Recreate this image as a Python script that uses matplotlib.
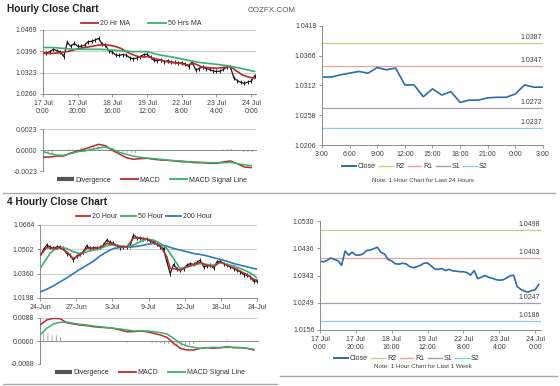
import numpy as np
import matplotlib
matplotlib.use('Agg')
from matplotlib import pyplot as plt
from matplotlib.lines import Line2D

# ---- hourly close, last week (every 2 hours from 17 Jul 0:00) ----
wk_hours = np.arange(0, 124, 2)
wk_close = [1.0392, 1.0390, 1.0395, 1.0403, 1.0398, 1.0394, 1.0378, 1.0427, 1.0413, 1.0423,
            1.0413, 1.0413, 1.0417, 1.0429, 1.0430, 1.0435, 1.0440, 1.0422, 1.0417, 1.0398,
            1.0393, 1.0383, 1.0382, 1.0385, 1.0383, 1.0374, 1.0370, 1.0373, 1.0378, 1.0385,
            1.0386, 1.0376, 1.0365, 1.0364, 1.0367, 1.0360, 1.0364, 1.0359, 1.0358, 1.0356,
            1.0356, 1.0353, 1.0344, 1.0360, 1.0332, 1.0337, 1.0343, 1.0337, 1.0334, 1.0329,
            1.0327, 1.0328, 1.0334, 1.0342, 1.0344, 1.0305, 1.0296, 1.0290, 1.0286, 1.0291,
            1.0294, 1.0312]
ma20_hours = [0, 6, 12, 16, 21, 27, 33, 37, 41, 45, 48, 52, 56, 60, 64, 68, 71, 75, 79, 83,
              87, 91, 94, 100, 104, 108, 112, 115, 119, 122]
ma20_vals = [1.0389, 1.0389, 1.0393, 1.0398, 1.0406, 1.0412, 1.0418, 1.0418, 1.0414, 1.0406,
             1.0395, 1.0384, 1.0376, 1.0378, 1.0372, 1.0366, 1.0361, 1.0357, 1.0355, 1.0349,
             1.0355, 1.0344, 1.0341, 1.0338, 1.0341, 1.0344, 1.0327, 1.0315, 1.0307, 1.0304]
ma50_hours = [0, 6, 12, 18, 25, 33, 39, 45, 52, 60, 67, 75, 83, 90, 98, 106, 114, 122]
ma50_vals = [1.0409, 1.0409, 1.0406, 1.0403, 1.0403, 1.0403, 1.0401, 1.0398, 1.0395, 1.0395,
             1.0384, 1.0376, 1.0366, 1.0358, 1.0353, 1.0347, 1.0338, 1.0327]
wk_labels = ['17 Jul\n0:00', '17 Jul\n20:00', '18 Jul\n16:00', '19 Jul\n12:00',
             '22 Jul\n8:00', '23 Jul\n4:00', '24 Jul\n0:00']

# hourly MACD (every 4 hours)
macd1_hours = np.arange(0, 121, 4)
macd1 = [-0.00077, -0.00077, -0.00066, -0.00066, -0.00033, -0.00011, 0.00011, 0.00037, 0.00062,
         0.00047, -0.00004, -0.00044, -0.00084, -0.00102, -0.00095, -0.00091, -0.00102, -0.00110,
         -0.00113, -0.00120, -0.00128, -0.00131, -0.00139, -0.00139, -0.00146, -0.00146, -0.00131,
         -0.00120, -0.00150, -0.00186, -0.00193]
signal1 = [-0.00018, -0.00040, -0.00055, -0.00058, -0.00040, -0.00018, -0.00011, 0.00007, 0.00022,
           0.00033, 0.00011, -0.00026, -0.00047, -0.00066, -0.00080, -0.00088, -0.00095, -0.00102,
           -0.00110, -0.00117, -0.00120, -0.00128, -0.00131, -0.00135, -0.00139, -0.00139, -0.00139,
           -0.00135, -0.00150, -0.00161, -0.00172]

# ---- last 24 hours ----
day_hours = np.arange(0, 25)
day_close = [1.0327, 1.0327, 1.0331, 1.0334, 1.0337, 1.0334, 1.0344, 1.0340, 1.0343, 1.0313,
             1.0313, 1.0292, 1.0306, 1.0295, 1.0301, 1.0282, 1.0286, 1.0286, 1.0290, 1.0291,
             1.0291, 1.0297, 1.0313, 1.0309, 1.0309]
day_labels = ['3:00', '6:00', '9:00', '12:00', '15:00', '18:00', '21:00', '0:00', '3:00']
day_levels = {'R2': 1.0387, 'R1': 1.0347, 'S1': 1.0272, 'S2': 1.0237}
wk_levels = {'R2': 1.0498, 'R1': 1.0403, 'S1': 1.0247, 'S2': 1.0186}

# ---- 4 hourly close (bar index) ----
h4_idx = np.arange(0, 131, 2)
h4_close = [1.0461, 1.0504, 1.0536, 1.0525, 1.0514, 1.0525, 1.0525, 1.0514, 1.0482, 1.0472,
            1.0440, 1.0467, 1.0476, 1.0493, 1.0531, 1.0514, 1.0519, 1.0519, 1.0521, 1.0536,
            1.0568, 1.0553, 1.0546, 1.0531, 1.0519, 1.0521, 1.0525, 1.0531, 1.0600, 1.0583,
            1.0579, 1.0574, 1.0574, 1.0561, 1.0553, 1.0540, 1.0525, 1.0514, 1.0429, 1.0354,
            1.0412, 1.0386, 1.0375, 1.0386, 1.0407, 1.0418, 1.0412, 1.0425, 1.0440, 1.0397,
            1.0403, 1.0407, 1.0390, 1.0429, 1.0433, 1.0418, 1.0407, 1.0397, 1.0386, 1.0375,
            1.0365, 1.0348, 1.0343, 1.0333, 1.0305, 1.0305]
h4_ma20_idx = [0, 4, 8, 12, 16, 20, 24, 28, 32, 36, 40, 44, 48, 52, 56, 60, 64, 68, 72, 76,
               78, 80, 84, 88, 92, 96, 100, 104, 108, 112, 116, 120, 124, 128, 130]
h4_ma20 = [1.0472, 1.0519, 1.0514, 1.0519, 1.0493, 1.0450, 1.0472, 1.0514, 1.0514, 1.0521,
           1.0546, 1.0540, 1.0525, 1.0525, 1.0579, 1.0583, 1.0574, 1.0557, 1.0531, 1.0461,
           1.0386, 1.0386, 1.0375, 1.0397, 1.0412, 1.0425, 1.0407, 1.0397, 1.0429, 1.0407,
           1.0390, 1.0369, 1.0348, 1.0318, 1.0311]
h4_ma50_idx = [0, 2, 4, 6, 8, 12, 16, 20, 24, 28, 32, 36, 40, 44, 48, 52, 56, 60, 64, 68,
               72, 76, 80, 84, 88, 92, 96, 100, 104, 108, 112, 116, 120, 124, 128, 130]
h4_ma50 = [1.0386, 1.0418, 1.0450, 1.0482, 1.0504, 1.0521, 1.0514, 1.0493, 1.0482, 1.0493,
           1.0504, 1.0514, 1.0531, 1.0540, 1.0531, 1.0525, 1.0536, 1.0557, 1.0574, 1.0568,
           1.0546, 1.0514, 1.0450, 1.0386, 1.0397, 1.0407, 1.0418, 1.0412, 1.0407, 1.0425,
           1.0412, 1.0403, 1.0386, 1.0369, 1.0343, 1.0326]
h4_ma200_idx = list(range(0, 129, 4)) + [130]
h4_ma200 = [1.0236, 1.0254, 1.0275, 1.0301, 1.0326, 1.0354, 1.0382, 1.0407, 1.0433, 1.0467,
            1.0493, 1.0514, 1.0521, 1.0523, 1.0525, 1.0531, 1.0540, 1.0546, 1.0536, 1.0529,
            1.0514, 1.0504, 1.0493, 1.0482, 1.0476, 1.0467, 1.0455, 1.0444, 1.0433, 1.0418,
            1.0407, 1.0397, 1.0386, 1.0382]
h4_labels = ['24-Jun', '27-Jun', '3-Jul', '9-Jul', '12-Jul', '18-Jul', '24-Jul']

macd4_idx = np.arange(0, 129, 4)
macd4 = [0.00612, 0.00803, 0.00867, 0.00854, 0.00701, 0.00650, 0.00612, 0.00587, 0.00548, 0.00523,
         0.00510, 0.00485, 0.00421, 0.00357, 0.00357, 0.00383, 0.00357, 0.00293, 0.00230, 0.00140,
         -0.00089, -0.00281, -0.00344, -0.00344, -0.00281, -0.00255, -0.00281, -0.00255, -0.00217,
         -0.00255, -0.00255, -0.00281, -0.00344]
signal4 = [0.00230, 0.00485, 0.00650, 0.00714, 0.00727, 0.00676, 0.00638, 0.00612, 0.00574, 0.00548,
           0.00510, 0.00485, 0.00459, 0.00421, 0.00383, 0.00383, 0.00383, 0.00357, 0.00319, 0.00268,
           0.00102, -0.00089, -0.00191, -0.00242, -0.00281, -0.00255, -0.00242, -0.00255, -0.00242,
           -0.00242, -0.00255, -0.00281, -0.00319]

RED = '#c1272d'
GREEN = '#33b36b'
BLUE = '#2e7bbf'
CLOSE_BLUE = '#2a6cab'
LEVEL_COLORS = {'R2': '#c9cc8c', 'R1': '#e9a3a3', 'S1': '#a29db3', 'S2': '#8ccfe0'}
FS = 5.0

plt.rcParams['font.family'] = ['Liberation Sans', 'DejaVu Sans']
plt.rcParams['hatch.linewidth'] = 0.5
W, H = 560, 386
fig = plt.figure(figsize=(W / 100, H / 100), dpi=100, facecolor='white')


def add_ax(x0, y0, x1, y1):
    return fig.add_axes([x0 / W, 1 - y1 / H, (x1 - x0) / W, (y1 - y0) / H])


def style(ax, grid=True):
    for s in ('top', 'right'):
        ax.spines[s].set_visible(False)
    for s in ('left', 'bottom'):
        ax.spines[s].set_color('#8c8c8c')
        ax.spines[s].set_linewidth(0.7)
    ax.tick_params(length=2.5, width=0.6, color='#8c8c8c', labelsize=FS,
                   labelcolor='#404040', pad=1.5)
    if grid:
        ax.yaxis.grid(True, color='#c4c4c4', lw=0.6)
        ax.set_axisbelow(True)


def legend(handles, labels, cx, cy, hl, cs, hp=0.3):
    fig.legend(handles, labels, loc='center', bbox_to_anchor=(cx / W, 1 - cy / H),
               ncol=len(handles), frameon=False, fontsize=FS, handlelength=hl,
               columnspacing=cs, handletextpad=hp, borderpad=0, labelcolor='#333333')


def macd_panel(ax, x, macd, sig, width, ylim, ticks, labels, xlim):
    style(ax)
    diff = np.array(macd) - np.array(sig)
    ax.bar(x, diff, width=width, fill=False, hatch='||||', edgecolor='#8a8a8a',
           linewidth=0, zorder=2)
    ax.plot(x, macd, color=RED, lw=1.1, zorder=3)
    ax.plot(x, sig, color=GREEN, lw=1.1, zorder=3)
    ax.spines['bottom'].set_position(('data', 0))
    ax.set_xticks([])
    ax.set_xlim(*xlim)
    ax.set_ylim(*ylim)
    ax.set_yticks(ticks)
    ax.set_yticklabels(labels)


def level_panel(ax, x, close, levels, yticks, ylabels, xticks, xlabels, xlim):
    style(ax, grid=False)
    for name in ('R2', 'R1', 'S1', 'S2'):
        ax.axhline(levels[name], color=LEVEL_COLORS[name], lw=0.9)
        ax.annotate('%.4f' % levels[name], xy=(1, levels[name]),
                    xycoords=('axes fraction', 'data'), xytext=(-1, 1.5),
                    textcoords='offset points', ha='right', va='bottom',
                    fontsize=FS, color='#404040')
    ax.plot(x, close, color=CLOSE_BLUE, lw=1.2)
    ax.set_xlim(*xlim)
    ax.set_ylim(yticks[0], yticks[-1])
    ax.set_yticks(yticks)
    ax.set_yticklabels(ylabels)
    ax.set_xticks(xticks)
    ax.set_xticklabels(xlabels)


# ---------- titles and separators ----------
fig.text(7 / W, 1 - 9 / H, 'Hourly Close Chart', fontsize=7.3, fontweight='bold',
         va='center', color='#222222')
fig.text(272 / W, 1 - 10 / H, 'COZFX.COM', fontsize=5.8, ha='center', va='center',
         color='#555555')
fig.text(7 / W, 1 - 202 / H, '4 Hourly Close Chart', fontsize=7.3, fontweight='bold',
         va='center', color='#222222')
fig.add_artist(Line2D([3 / W, 555 / W], [1 - 193 / H] * 2, color='#aaaaaa', lw=1.0))
fig.add_artist(Line2D([3 / W, 277 / W], [1 - 384 / H] * 2, color='#aaaaaa', lw=1.0))
fig.add_artist(Line2D([280 / W, 557 / W], [1 - 376 / H] * 2, color='#aaaaaa', lw=1.0))

# ---------- hourly price ----------
ax1 = add_ax(43, 30, 256, 94)
style(ax1)
ax1.plot(wk_hours, wk_close, color='#1a1a1a', lw=0.9, marker='|', ms=2.5, mew=0.7, zorder=2)
ax1.plot(ma20_hours, ma20_vals, color=RED, lw=1.2, zorder=3)
ax1.plot(ma50_hours, ma50_vals, color=GREEN, lw=1.2, zorder=3)
ax1.set_xlim(0, 122.8)
ax1.set_ylim(1.0250, 1.0469)
ax1.set_yticks(np.linspace(1.0250, 1.0469, 4))
ax1.set_yticklabels(['1.0260', '1.0323', '1.0396', '1.0469'])
ax1.set_xticks(np.arange(0, 121, 20))
ax1.set_xticklabels(wk_labels, linespacing=1.3)
legend([Line2D([], [], color=RED, lw=1.3), Line2D([], [], color=GREEN, lw=1.3)],
       ['20 Hr MA', '50 Hrs MA'], 141, 23.5, 2.5, 2.6)

# ---------- hourly MACD ----------
ax2 = add_ax(43, 129, 256, 171)
macd_panel(ax2, macd1_hours, macd1, signal1, 4, (-0.0023, 0.0023),
           [-0.0023, 0, 0.0023], ['-0.0023', '0.0000', '0.0023'], (0, 122.8))
macd_handles = [Line2D([], [], color='#555555', lw=3, solid_capstyle='butt'),
                Line2D([], [], color=RED, lw=1.3), Line2D([], [], color=GREEN, lw=1.3)]
macd_labels = ['Divergence', 'MACD', 'MACD Signal Line']
legend(macd_handles, macd_labels, 152, 180, 2.4, 1.4)

# ---------- last 24 hours ----------
ax3 = add_ax(322, 26, 543, 145)
level_panel(ax3, day_hours, day_close, day_levels, np.linspace(1.0206, 1.0418, 5),
            ['1.0206', '1.0258', '1.0312', '1.0366', '1.0418'],
            np.arange(0, 25, 3), day_labels, (0, 24))
level_handles = [Line2D([], [], color=CLOSE_BLUE, lw=1.4)] + \
    [Line2D([], [], color=LEVEL_COLORS[n], lw=1.0) for n in ('R2', 'R1', 'S1', 'S2')]
level_labels = ['Close', 'R2', 'R1', 'S1', 'S2']
legend(level_handles, level_labels, 415, 167, 2.0, 0.5, 0.25)
fig.text(423 / W, 1 - 180 / H, 'Note: 1 Hour Chart for Last 24 Hours', fontsize=4.5,
         ha='center', va='center', color='#404040')

# ---------- 4 hourly price ----------
ax4 = add_ax(40, 225, 257, 298)
style(ax4)
ax4.plot(h4_idx, h4_close, color='#1a1a1a', lw=0.9, marker='|', ms=3, mew=0.7, zorder=2)
ax4.plot(h4_ma200_idx, h4_ma200, color=BLUE, lw=1.2, zorder=3)
ax4.plot(h4_ma50_idx, h4_ma50, color=GREEN, lw=1.2, zorder=3)
ax4.plot(h4_ma20_idx, h4_ma20, color=RED, lw=1.1, zorder=4)
ax4.set_xlim(0, 130)
ax4.set_ylim(1.0198, 1.0664)
ax4.set_yticks(np.linspace(1.0198, 1.0664, 4))
ax4.set_yticklabels(['1.0198', '1.0360', '1.0502', '1.0664'])
ax4.set_xticks(np.linspace(0, 130, 7))
ax4.set_xticklabels(h4_labels)
legend([Line2D([], [], color=RED, lw=1.3), Line2D([], [], color=GREEN, lw=1.3),
        Line2D([], [], color=BLUE, lw=1.3)],
       ['20 Hour', '50 Hour', '200 Hour'], 144, 217, 2.1, 0.5)

# ---------- 4 hourly MACD ----------
ax5 = add_ax(40, 318, 258, 364)
macd_panel(ax5, macd4_idx, macd4, signal4, 4, (-0.0088, 0.0088),
           [-0.0088, 0, 0.0088], ['-0.0088', '0.0000', '0.0088'], (0, 130.5))
legend(macd_handles, macd_labels, 150, 373, 2.4, 1.4)

# ---------- last week ----------
ax6 = add_ax(320, 221, 541, 330)
level_panel(ax6, wk_hours, wk_close, wk_levels, np.linspace(1.0156, 1.0530, 5),
            ['1.0156', '1.0249', '1.0343', '1.0436', '1.0530'],
            np.arange(0, 121, 20), wk_labels, (0, 123.3))
for t in ax6.get_xticklabels():
    t.set_linespacing(1.3)
legend(level_handles, level_labels, 407, 359, 2.0, 0.5, 0.25)
fig.text(423 / W, 1 - 366 / H, 'Note: 1 Hour Chart for Last 1 Week', fontsize=4.5,
         ha='center', va='center', color='#404040')

fig.savefig('out.png', dpi=100, facecolor='white')
